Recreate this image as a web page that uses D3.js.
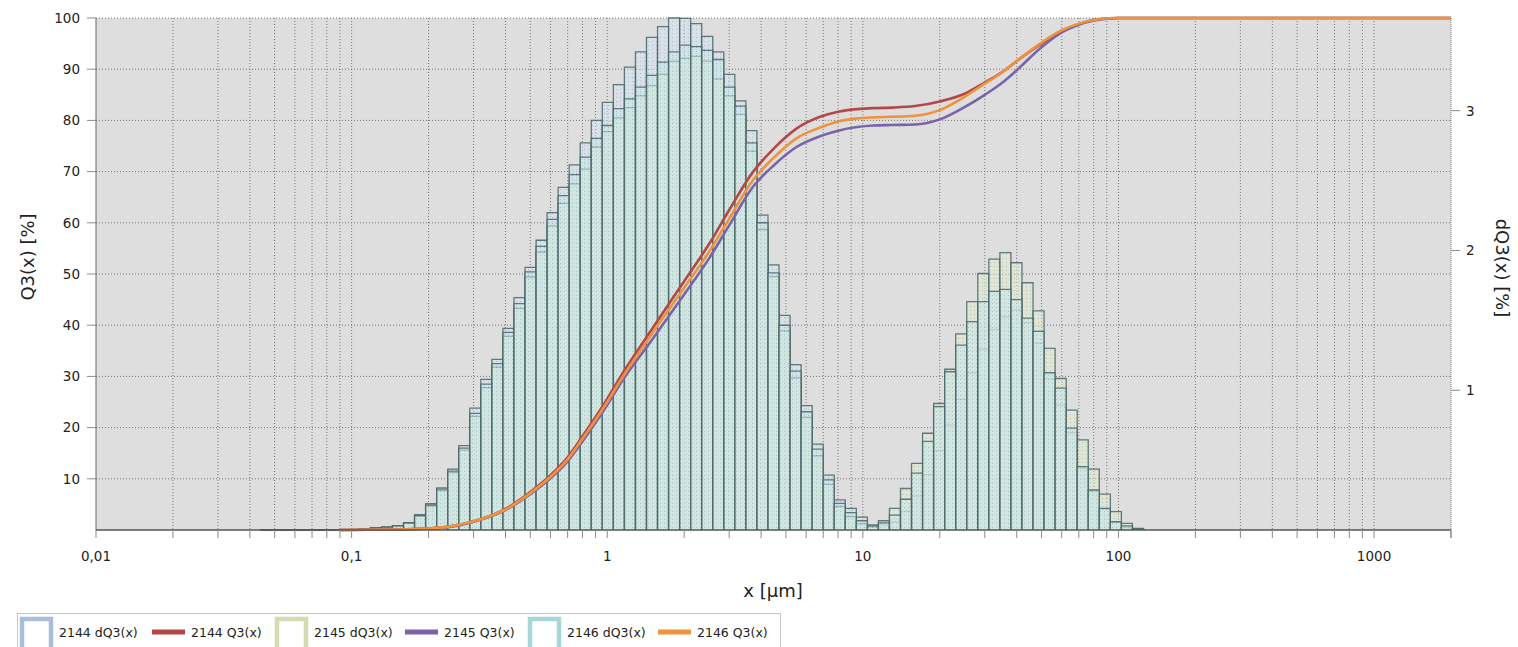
<!DOCTYPE html>
<html>
<head>
<meta charset="utf-8">
<script src="https://cdn.jsdelivr.net/npm/d3@7/dist/d3.min.js"></script>
<style>
    body { margin: 0; background: #fff; }
    svg { display: block; font-family: "DejaVu Sans", Verdana, sans-serif; }
</style>
</head>
<body>
<svg id="chart" width="1518" height="647"></svg>
<script>
// size classes (um): geometric grid, 80 classes
var binStart = 0.0438, binRatio = 1.1046, binCount = 80;

// dQ3 per class [%]
var dq3_2144 = [0,0,0,0,0,0,0,0,0, 0.01,0.015,0.02,0.03,
    0.053,0.11,0.189,0.302,0.436,0.604,0.872,1.077,1.22,1.443,1.663,1.879,2.073,2.271,2.451,2.612,2.769,2.93,3.059,3.187,
    3.311,3.421,3.524,3.601,3.663,3.66,3.623,3.531,3.421,3.26,3.07,2.857,2.253,1.897,1.535,1.183,0.89,0.615,0.392,0.216,0.154,0.092,0.037,
    0.037,0.059,0.132,0.242,0.396,0.568,0.751,0.934,1.125,1.293,1.436,1.527,1.575,1.484,1.337,1.081,0.894,0.696,0.44,0.275,0.147,0.055,0.018,0.004];
var dq3_2145 = [0,0,0,0,0,0,0,0,0, 0.01,0.015,0.02,0.03,
    0.048,0.099,0.172,0.282,0.41,0.571,0.813,1.018,1.165,1.385,1.586,1.81,1.989,2.176,2.337,2.476,2.582,2.74,2.85,2.949,
    3.022,3.106,3.179,3.26,3.352,3.374,3.388,3.355,3.227,3.106,2.974,2.711,2.15,1.813,1.425,1.088,0.806,0.531,0.326,0.168,0.095,0.044,0.022,
    0.066,0.154,0.297,0.476,0.692,0.905,1.15,1.403,1.634,1.835,1.938,1.985,1.912,1.769,1.568,1.3,1.084,0.857,0.645,0.436,0.256,0.132,0.048,0.011];
var dq3_2146 = [0,0,0,0,0,0,0,0,0, 0.01,0.015,0.02,0.03,
    0.051,0.103,0.179,0.293,0.421,0.586,0.835,1.044,1.19,1.414,1.619,1.846,2.029,2.223,2.392,2.542,2.667,2.802,2.894,3.015,
    3.084,3.168,3.253,3.348,3.421,3.469,3.458,3.432,3.366,3.168,3.033,2.769,2.198,1.839,1.465,1.136,0.846,0.579,0.359,0.19,0.125,0.066,0.029,
    0.051,0.106,0.22,0.407,0.634,0.883,1.132,1.322,1.491,1.634,1.707,1.722,1.648,1.516,1.421,1.125,1.015,0.729,0.454,0.286,0.154,0.059,0.029,0.007];

// cumulative Q3 [%] sampled along x
var q3X = [0.09,0.15,0.2,0.25,0.3,0.4,0.5,0.6,0.7,0.8,1,1.12,1.5,2,2.5,3,3.7,4.5,5.5,6.8,8,9.5,11,13,16,20,25,30,35,40,50,60,70,85,100,2000];
var q3_2144 = [0,0.1,0.3,0.8,1.7,4.1,7.4,10.7,14.2,18.3,25.6,29.7,39.3,48.6,55.8,62.5,69.8,74.6,78.4,80.7,81.7,82.2,82.4,82.5,82.8,83.7,85.2,87.4,89.4,91.6,95.0,97.4,98.8,99.8,100,100];
var q3_2145 = [0,0.1,0.3,0.7,1.6,3.9,7.0,10.1,13.4,17.3,24.4,28.4,37.2,46.0,53.0,59.5,66.9,71.3,74.8,76.9,78.0,78.7,79.0,79.1,79.2,80.2,82.6,85.0,87.3,89.8,94.3,97.2,98.7,99.7,100,100];
var q3_2146 = [0,0.1,0.3,0.8,1.7,4.0,7.2,10.4,13.8,17.8,25.0,29.0,38.4,47.3,54.3,60.8,68.2,72.8,76.5,78.6,79.8,80.4,80.6,80.7,80.9,82.0,84.6,87.2,89.3,91.6,95.2,97.6,98.9,99.8,100,100];

var xTickValues = [0.01, 0.1, 1, 10, 100, 1000];
var xTickLabels = ["0,01", "0,1", "1", "10", "100", "1000"];
var yLeftTicks = [10, 20, 30, 40, 50, 60, 70, 80, 90, 100];
var yRightTicks = [1, 2, 3];
var sampleNames = ["2144", "2145", "2146"];

var svg = d3.select("#chart");
var L = 96, R = 1451, T = 18, B = 530;

var x = d3.scaleLog().domain([0.01, 2000]).range([L, R]);
var yQ = d3.scaleLinear().domain([0, 100]).range([B, T]);
var yD = d3.scaleLinear().domain([0, 3.663]).range([B, T]);

var edges = d3.range(binCount + 1).map(function(i) { return binStart * Math.pow(binRatio, i); });

var bars = [
    {name: sampleNames[0], values: dq3_2144, fill: "#d3e1f2", legend: "#a9bed8"},
    {name: sampleNames[1], values: dq3_2145, fill: "#e4eacb", legend: "#d2dcb0"},
    {name: sampleNames[2], values: dq3_2146, fill: "#c8e6ea", legend: "#a6d6da"}
];
var curves = [
    {name: sampleNames[0], values: q3_2144, color: "#b34848"},
    {name: sampleNames[1], values: q3_2145, color: "#7b63a9"},
    {name: sampleNames[2], values: q3_2146, color: "#f0923c"}
];

// minor log ticks 0.01 .. 2000
var minorTicks = [];
[0.01, 0.1, 1, 10, 100, 1000].forEach(function(d) {
    for (var m = 1; m <= 9; m++) {
        var v = +(d * m).toPrecision(3);
        if (v <= 2000) minorTicks.push(v);
    }
});
minorTicks.push(2000);

var defs = svg.append("defs");
bars.forEach(function(s, i) {
    var p = defs.append("pattern").attr("id", "dots" + i)
        .attr("width", 4).attr("height", 4).attr("patternUnits", "userSpaceOnUse");
    p.append("rect").attr("width", 4).attr("height", 4).attr("fill", s.fill);
    p.append("rect").attr("x", (i % 2) * 2).attr("y", 1 + i).attr("width", 1).attr("height", 1)
        .attr("fill", "#6a8886").attr("opacity", 0.7);
});

svg.append("rect").attr("x", L).attr("y", T).attr("width", R - L).attr("height", B - T).attr("fill", "#dedede");

// grid
var grid = svg.append("g").attr("stroke", "#777").attr("stroke-dasharray", "1,2").attr("stroke-width", 1);
minorTicks.filter(function(v) { return v > 0.01 && v < 2000; }).forEach(function(v) {
    grid.append("line").attr("x1", x(v)).attr("x2", x(v)).attr("y1", T).attr("y2", B);
});
yLeftTicks.forEach(function(v) {
    grid.append("line").attr("x1", L).attr("x2", R).attr("y1", yQ(v)).attr("y2", yQ(v));
});

// histogram bars
bars.forEach(function(s, i) {
    var g = svg.append("g");
    s.values.forEach(function(v, k) {
        var x0 = x(edges[k]), x1 = x(edges[k + 1]), y = yD(v);
        g.append("path")
            .attr("d", "M" + x0 + "," + B + "V" + y + "H" + x1 + "V" + B)
            .attr("fill", "url(#dots" + i + ")")
            .attr("fill-opacity", 0.55)
            .attr("stroke", "#4a6666")
            .attr("stroke-opacity", 0.85)
            .attr("stroke-width", 1.3);
    });
});

// cumulative curves
var line = d3.line()
    .x(function(d) { return x(d[0]); })
    .y(function(d) { return yQ(d[1]); })
    .curve(d3.curveMonotoneX);
curves.forEach(function(c) {
    svg.append("path")
        .datum(q3X.map(function(v, i) { return [v, c.values[i]]; }))
        .attr("d", line)
        .attr("fill", "none")
        .attr("stroke", c.color)
        .attr("stroke-width", 2.6)
        .attr("stroke-linejoin", "round");
});

// axes
svg.append("line").attr("x1", L).attr("x2", L).attr("y1", T).attr("y2", B).attr("stroke", "#666");
svg.append("line").attr("x1", R).attr("x2", R).attr("y1", T).attr("y2", B)
    .attr("stroke", "#777").attr("stroke-dasharray", "1,1");
svg.append("line").attr("x1", L).attr("x2", R).attr("y1", B).attr("y2", B).attr("stroke", "#555").attr("stroke-width", 1.5);

var ticks = svg.append("g").attr("stroke", "#8a8a8a");
minorTicks.forEach(function(v) {
    ticks.append("line").attr("x1", x(v)).attr("x2", x(v)).attr("y1", B).attr("y2", B + 8);
});
yLeftTicks.forEach(function(v) {
    ticks.append("line").attr("x1", L - 9).attr("x2", L).attr("y1", yQ(v)).attr("y2", yQ(v));
});
yRightTicks.forEach(function(v) {
    ticks.append("line").attr("x1", R).attr("x2", R + 9).attr("y1", yD(v)).attr("y2", yD(v));
});

var labels = svg.append("g").attr("fill", "#222").attr("font-size", 13.5);
xTickValues.forEach(function(v, i) {
    labels.append("text").attr("x", x(v)).attr("y", 561).attr("text-anchor", "middle").text(xTickLabels[i]);
});
yLeftTicks.forEach(function(v) {
    labels.append("text").attr("x", 80).attr("y", yQ(v)).attr("dy", "0.36em").attr("text-anchor", "end").text(v);
});
yRightTicks.forEach(function(v) {
    labels.append("text").attr("x", 1466).attr("y", yD(v)).attr("dy", "0.36em").text(v);
});

svg.append("text").attr("transform", "translate(34,257) rotate(-90)")
    .attr("text-anchor", "middle").attr("font-size", 18).attr("fill", "#222").text("Q3(x) [%]");
svg.append("text").attr("transform", "translate(1496,268) rotate(90)")
    .attr("text-anchor", "middle").attr("font-size", 18).attr("fill", "#222").text("dQ3(x) [%]");
svg.append("text").attr("x", 773).attr("y", 597)
    .attr("text-anchor", "middle").attr("font-size", 18).attr("fill", "#222").text("x [µm]");

// legend
var legend = svg.append("g");
legend.append("rect").attr("x", 17.5).attr("y", 613.5).attr("width", 763).attr("height", 40)
    .attr("fill", "#fff").attr("stroke", "#c4c4c4");
var legendX = [20, 152, 275, 405, 528, 658];
var legendItems = [];
bars.forEach(function(s, i) {
    legendItems.push({kind: "bar", color: s.legend, label: s.name + " dQ3(x)"});
    legendItems.push({kind: "line", color: curves[i].color, label: curves[i].name + " Q3(x)"});
});
legendItems.forEach(function(d, i) {
    var x0 = legendX[i];
    if (d.kind === "bar") {
        legend.append("path").attr("d", "M" + (x0 + 2) + ",647V619H" + (x0 + 31) + "V647")
            .attr("fill", "none").attr("stroke", d.color).attr("stroke-width", 4.5);
    } else {
        legend.append("line").attr("x1", x0).attr("x2", x0 + 33).attr("y1", 632).attr("y2", 632)
            .attr("stroke", d.color).attr("stroke-width", 5);
    }
    legend.append("text").attr("x", x0 + 39).attr("y", 637)
        .attr("font-size", 12.5).attr("fill", "#222").text(d.label);
});
</script>
</body>
</html>
